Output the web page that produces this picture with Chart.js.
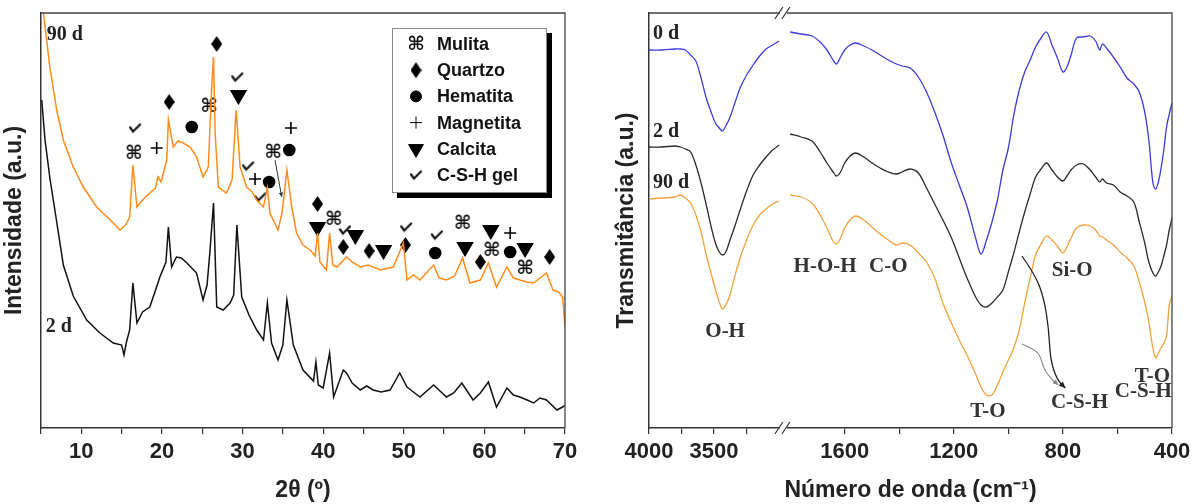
<!DOCTYPE html>
<html>
<head>
<meta charset="utf-8">
<script src="https://cdn.jsdelivr.net/npm/chart.js@4.4.0/dist/chart.umd.min.js"></script>
<style>
  html, body { margin: 0; padding: 0; background: #fff; }
  #wrap { position: relative; width: 1202px; height: 504px; }
  canvas { position: absolute; top: 0; }
  #xrd { left: 0; }
  #ftir { left: 600px; }
</style>
</head>
<body>
<div id="wrap">
  <canvas id="xrd" width="600" height="504"></canvas>
  <canvas id="ftir" width="602" height="504"></canvas>
</div>
<script>
// ---------- XRD (left panel): 2θ in degrees, intensity in a.u. ----------
const xrd90dAngle = [5.0, 5.3, 6.1, 6.95, 7.77, 9.0, 10.25, 11.9, 13.6, 14.8,
  15.5, 16.0, 16.4, 16.9, 17.6, 18.5, 19.2, 19.5, 19.9, 20.6,
  20.8, 21.4, 22.0, 22.65, 23.5, 24.3, 25.1, 25.75, 26.2, 26.4,
  26.6, 27.0, 28.0, 28.7, 29.2, 29.7, 30.5, 31.2, 31.76, 32.6,
  33.08, 33.4, 34.4, 34.9, 35.5, 36.1, 36.7, 37.5, 38.4, 39.0,
  39.3, 39.6, 40.4, 40.8, 41.2, 41.7, 42.9, 43.6, 44.6, 45.6,
  47.1, 48.7, 49.95, 50.4, 51.2, 52.0, 53.7, 54.4, 55.3, 56.3,
  57.3, 58.2, 59.5, 60.5, 61.5, 62.8, 63.6, 64.4, 65.3, 66.1,
  67.7, 68.5, 69.2, 69.7, 70.0];
const xrd90dInt = [423, 415, 361, 318, 288, 261, 241, 221, 208, 198,
  203, 211, 263, 221, 228, 235, 240, 251, 246, 268,
  308, 281, 287, 285, 281, 271, 251, 261, 345, 371,
  295, 241, 235, 248, 318, 261, 241, 236, 228, 221,
  240, 215, 198, 215, 258, 221, 195, 183, 178, 172,
  195, 166, 158, 195, 163, 161, 171, 166, 161, 163,
  158, 161, 185, 148, 153, 148, 163, 150, 148, 152,
  170, 145, 148, 165, 141, 161, 150, 148, 146, 145,
  155, 138, 136, 131, 101];

const xrd2dAngle = [5.09, 5.5, 6.1, 6.95, 7.77, 9.0, 10.67, 12.3, 13.97, 15.0,
  15.3, 15.6, 16.0, 16.4, 16.9, 17.6, 18.5, 19.75, 20.5, 20.8,
  21.2, 21.8, 22.4, 23.1, 24.3, 25.1, 25.6, 25.97, 26.4, 26.8,
  27.6, 28.45, 28.9, 29.3, 29.9, 30.8, 31.76, 32.6, 33.08, 33.6,
  34.4, 35.0, 35.5, 36.3, 37.5, 38.8, 39.1, 39.4, 40.0, 40.8,
  41.3, 42.5, 42.9, 43.6, 44.6, 45.4, 46.2, 47.2, 48.3, 49.5,
  50.4, 51.2, 52.0, 53.7, 55.3, 56.2, 57.2, 58.6, 59.5, 60.5,
  61.5, 62.8, 63.6, 64.4, 65.3, 66.1, 66.9, 67.7, 69.0, 69.7,
  70.0];
const xrd2dInt = [328, 288, 250, 206, 163, 132, 108, 95, 85, 83,
  73, 86, 98, 145, 105, 116, 121, 151, 166, 201,
  161, 171, 170, 165, 155, 128, 143, 178, 225, 121,
  118, 125, 133, 203, 131, 113, 98, 88, 125, 85,
  68, 83, 128, 83, 58, 47, 66, 43, 40, 75,
  31, 58, 55, 45, 38, 42, 38, 36, 38, 55,
  41, 36, 31, 43, 31, 35, 45, 28, 35, 46,
  21, 40, 33, 31, 28, 25, 30, 28, 18, 21,
  23];

// phase markers: [2θ, level]
const mulitaMarks = [[16.5, 275], [25.85, 322], [33.8, 276], [41.3, 209], [57.3, 205], [60.9, 178], [65.05, 160]];
const quartzoMarks = [[20.9, 326], [26.8, 384], [39.3, 224], [42.5, 181], [45.7, 177], [50.2, 183], [59.5, 166], [68.1, 171]];
const hematitaMarks = [[23.7, 301], [35.8, 278], [33.3, 246], [53.9, 175], [63.2, 176]];
const magnetitaMarks = [[19.35, 280], [36.0, 300], [31.55, 249], [63.2, 195]];
const calcitaMarks = [[29.5, 333], [39.3, 201], [44.0, 193], [47.5, 178], [57.6, 181], [60.8, 198], [65.05, 180]];
const cshMarks = [[16.67, 300], [29.35, 351], [30.7, 262], [32.2, 231], [42.7, 198], [50.3, 201], [54.1, 193]];
const xrdLeader = [[34.03, 268], [34.86, 231]];
const xrdDayLabels = [['90 d', 5.7, 393], ['2 d', 5.6, 101]];

// ---------- FTIR (right panel): wavenumber in cm-1, transmittance in a.u. ----------
const ftirLeftWn = [4000, 3900, 3800, 3760, 3720, 3680, 3640, 3600, 3560, 3520, 3490, 3460,
  3435, 3410, 3380, 3340, 3300, 3250, 3200, 3150, 3100, 3050, 3000];
const ftirRightWn = [1800, 1760, 1720, 1690, 1665, 1645, 1630, 1615, 1600, 1580,
  1560, 1530, 1500, 1470, 1440, 1410, 1390, 1360, 1330, 1300,
  1270, 1240, 1210, 1180, 1150, 1120, 1100, 1080, 1060, 1040,
  1020, 1000, 980, 960, 940, 920, 900, 880, 860, 840,
  820, 800, 785, 770, 750, 725, 700, 680, 665, 655,
  640, 615, 590, 565, 540, 520, 500, 485, 470, 460,
  450, 440, 430, 420, 410, 400];

const ftir0dLeft = [378, 378, 379, 379, 378, 373, 367, 350, 330, 315, 305, 300,
  297, 302, 310, 325, 340, 353, 363, 372, 379, 383, 387];
const ftir0dRight = [396, 394, 392, 386, 378, 369, 364, 371, 378, 383,
  385, 382, 378, 373, 368, 364, 362, 360, 351, 336,
  316, 293, 266, 243, 220, 190, 174, 188, 206, 228,
  258, 280, 313, 338, 356, 368, 381, 390, 396, 383,
  370, 356, 361, 373, 390, 391, 392, 387, 378, 384,
  380, 371, 361, 350, 344, 336, 316, 288, 245, 239,
  246, 260, 278, 301, 314, 325];

const ftir2dLeft = [281, 281, 282, 281, 279, 276, 263, 245, 223, 200, 185, 176,
  173, 176, 187, 202, 218, 237, 253, 263, 271, 278, 283];
const ftir2dRight = [294, 291, 287, 276, 265, 257, 252, 256, 265, 272,
  275, 271, 265, 260, 256, 254, 256, 259, 255, 240,
  224, 208, 191, 170, 149, 131, 123, 121, 125, 131,
  138, 156, 175, 196, 216, 234, 251, 259, 265, 258,
  251, 247, 252, 258, 263, 264, 258, 251, 246, 249,
  245, 243, 236, 232, 226, 206, 185, 166, 155, 152,
  156, 162, 172, 183, 198, 210];

const ftir90dLeft = [229, 230, 231, 233, 230, 225, 213, 196, 173, 153, 139, 126,
  119, 123, 132, 152, 170, 188, 203, 213, 219, 224, 227];
const ftir90dRight = [233, 231, 225, 213, 200, 188, 184, 190, 200, 208,
  212, 208, 201, 194, 188, 183, 185, 183, 175, 166,
  150, 125, 106, 88, 72, 54, 41, 33, 33, 43,
  56, 68, 80, 98, 125, 150, 173, 184, 192, 188,
  182, 175, 181, 190, 200, 203, 202, 198, 192, 191,
  188, 183, 176, 170, 162, 146, 126, 106, 80, 70,
  75, 80, 85, 92, 123, 132];

const ftirTicks = [4000, 3750, 3500, 3250, 1600, 1400, 1200, 1000, 800, 600, 400];
const ftirTickLabels = ['4000', '', '3500', '', '1600', '', '1200', '', '800', '', '400'];
const ftirDayLabels = [['0 d', 3969, 394], ['2 d', 3969, 296], ['90 d', 3969, 245]];
const ftirBandLabels = [['O-H', 3415, 96], ['H-O-H', 1672, 161], ['C-O', 1440, 161], ['Si-O', 766, 157],
  ['T-O', 1075, 16], ['C-S-H', 739, 25], ['T-O', 472, 51], ['C-S-H', 505, 36]];
const ftirArrowDark = [[950, 172], [901, 153], [870, 130], [852, 100], [846, 68], [821, 48], [791, 40]];
const ftirArrowGray = [[950, 84], [901, 78], [883, 72], [870, 59], [846, 50], [817, 43]];

// broken wavenumber axis: 4000-2950 then 1800-400
const LEFT_K = 0.13, RIGHT_K = 0.2725, RIGHT_START = 141;
function wnToU(w) {
  return w >= 2400 ? (4000 - w) * LEFT_K : RIGHT_START + (1800 - w) * RIGHT_K;
}
const BREAK_U = (wnToU(2950) + wnToU(1800)) / 2 - 5;

// ---------- helpers ----------
const SANS = '"Liberation Sans", Arial, sans-serif';
const SERIF = '"Liberation Serif", "Times New Roman", serif';
const INK = '#222';

function glyph(w, h, draw) {
  const c = document.createElement('canvas');
  c.width = w; c.height = h;
  draw(c.getContext('2d'), w, h);
  return c;
}
const mulitaIcon = glyph(20, 18, (g, w, h) => {
  g.fillStyle = '#111'; g.font = 'bold 19px "DejaVu Sans"';
  g.textAlign = 'center'; g.textBaseline = 'middle';
  g.fillText('\u2318', w / 2, h / 2 + 1);
});
const checkIcon = glyph(14, 11, (g) => {
  g.strokeStyle = '#111'; g.lineWidth = 2.2; g.lineCap = 'round'; g.lineJoin = 'round';
  g.beginPath(); g.moveTo(2, 5); g.lineTo(5, 9); g.lineTo(12, 2); g.stroke();
});
const diamondIcon = glyph(11, 16, (g, w, h) => {
  g.fillStyle = '#000';
  g.beginPath(); g.moveTo(w / 2, 0); g.lineTo(w, h / 2); g.lineTo(w / 2, h); g.lineTo(0, h / 2); g.closePath(); g.fill();
});

function toXY(arr) { return arr.map(([x, y]) => ({x, y})); }
function pairs(xs, ys) { return xs.map((x, i) => ({x, y: ys[i]})); }

function markSet(label, marks, style, radius, rotation) {
  return {
    label, data: toXY(marks), showLine: false, phase: true,
    pointStyle: style, pointRadius: radius, rotation: rotation || 0,
    pointBackgroundColor: '#000', pointBorderColor: '#000', pointBorderWidth: 1.6
  };
}

function drawPath(chart, pts, color, width, head) {
  const {ctx, scales: {x, y}} = chart;
  const p = pts.map(([a, b]) => [x.getPixelForValue(a), y.getPixelForValue(b)]);
  ctx.save();
  ctx.strokeStyle = color; ctx.fillStyle = color; ctx.lineWidth = width; ctx.lineJoin = 'round';
  ctx.beginPath();
  ctx.moveTo(p[0][0], p[0][1]);
  for (let i = 1; i < p.length - 1; i++) {
    const mx = (p[i][0] + p[i + 1][0]) / 2, my = (p[i][1] + p[i + 1][1]) / 2;
    ctx.quadraticCurveTo(p[i][0], p[i][1], mx, my);
  }
  ctx.lineTo(p[p.length - 1][0], p[p.length - 1][1]);
  ctx.stroke();
  if (head) {
    const [x1, y1] = p[p.length - 2], [x2, y2] = p[p.length - 1];
    const ang = Math.atan2(y2 - y1, x2 - x1);
    ctx.beginPath();
    ctx.moveTo(x2, y2);
    ctx.lineTo(x2 - head * Math.cos(ang - 0.45), y2 - head * Math.sin(ang - 0.45));
    ctx.lineTo(x2 - head * Math.cos(ang + 0.45), y2 - head * Math.sin(ang + 0.45));
    ctx.closePath(); ctx.fill();
  }
  ctx.restore();
}

function drawTexts(chart, items, font, color, align, mapX) {
  const {ctx, scales: {x, y}} = chart;
  ctx.save();
  ctx.font = font; ctx.fillStyle = color; ctx.textAlign = align; ctx.textBaseline = 'middle';
  items.forEach(([t, a, b]) => ctx.fillText(t, x.getPixelForValue(mapX ? mapX(a) : a), y.getPixelForValue(b)));
  ctx.restore();
}

function frame(chart) {
  const {ctx, chartArea: a} = chart;
  ctx.save();
  ctx.strokeStyle = '#444'; ctx.lineWidth = 1.3;
  ctx.beginPath();
  ctx.moveTo(a.left, a.top); ctx.lineTo(a.right, a.top); ctx.lineTo(a.right, a.bottom);
  ctx.stroke();
  ctx.restore();
}

function baseOptions(axisWidth, padRight, yTitle, yTitlePad, xTitle) {
  const tickFont = {family: SANS, size: 22, weight: 'bold'};
  const titleFont = {family: SANS, size: 23, weight: 'bold'};
  return {
    responsive: false, animation: false, events: [],
    layout: {padding: {top: 13, right: padRight, bottom: 0, left: 0}},
    plugins: {legend: {display: false}, tooltip: {enabled: false}},
    elements: {point: {radius: 0}},
    scales: {
      x: {
        type: 'linear',
        grid: {drawOnChartArea: false, drawTicks: true, tickLength: 6, color: '#333', lineWidth: 1.2},
        border: {display: true, color: '#333', width: 1.5},
        ticks: {font: tickFont, color: INK, padding: 5, autoSkip: false, maxRotation: 0},
        title: {display: true, text: xTitle, font: titleFont, color: INK, padding: {top: 0, bottom: 0}},
        afterFit: s => { s.height = 76; }
      },
      y: {
        min: 0, max: 415,
        ticks: {display: false},
        grid: {display: false},
        border: {display: true, color: '#333', width: 1.5},
        title: {display: true, text: yTitle, font: titleFont, color: INK, padding: {top: yTitlePad, bottom: 0}},
        afterFit: s => { s.width = axisWidth; }
      }
    }
  };
}

// ---------- XRD chart ----------
const xrdOpts = baseOptions(41, 35, 'Intensidade (a.u.)', 1, '2\u03B8 (\u00BA)');
Object.assign(xrdOpts.scales.x, {min: 5, max: 70});
xrdOpts.scales.x.ticks.stepSize = 5;
xrdOpts.scales.x.ticks.callback = v => (v % 10 === 0 ? String(v) : '');

const xrdLegendPlugin = {
  id: 'xrdLegend',
  afterDraw(chart) {
    const {ctx, chartArea: a} = chart;
    const w = 155, h = 165, bx = a.right - 18 - w, by = a.top + 15;
    ctx.save();
    ctx.fillStyle = '#000'; ctx.fillRect(bx + 5, by + 5, w, h);
    ctx.fillStyle = '#fff'; ctx.fillRect(bx, by, w, h);
    ctx.strokeStyle = '#888'; ctx.lineWidth = 1; ctx.strokeRect(bx + 0.5, by + 0.5, w - 1, h - 1);
    const sets = chart.data.datasets.filter(d => d.phase);
    sets.forEach((d, i) => {
      const cy = by + 16 + i * 26.2;
      ctx.fillStyle = '#000'; ctx.strokeStyle = '#000';
      Chart.helpers.drawPoint(ctx, {pointStyle: d.pointStyle, rotation: d.rotation, radius: d.pointRadius, borderWidth: 1.6}, bx + 24, cy);
      ctx.fillStyle = '#111'; ctx.font = 'bold 18px ' + SANS; ctx.textAlign = 'left'; ctx.textBaseline = 'middle';
      ctx.fillText(d.label, bx + 45, cy + 1);
    });
    ctx.restore();
  }
};

new Chart(document.getElementById('xrd'), {
  type: 'line',
  data: {
    datasets: [
      {label: '90 d', data: pairs(xrd90dAngle, xrd90dInt), borderColor: '#ff8c1a', borderWidth: 1.5, tension: 0},
      {label: '2 d', data: pairs(xrd2dAngle, xrd2dInt), borderColor: '#111', borderWidth: 1.5, tension: 0},
      markSet('Mulita', mulitaMarks, mulitaIcon, 6),
      markSet('Quartzo', quartzoMarks, diamondIcon, 6),
      markSet('Hematita', hematitaMarks, 'circle', 5.5),
      markSet('Magnetita', magnetitaMarks, 'cross', 6),
      markSet('Calcita', calcitaMarks, 'triangle', 8.5, 180),
      markSet('C-S-H gel', cshMarks, checkIcon, 6)
    ]
  },
  options: xrdOpts,
  plugins: [{
    id: 'xrdDecor',
    afterDraw(chart) {
      frame(chart);
      drawTexts(chart, xrdDayLabels, 'bold 20px ' + SERIF, INK, 'left');
      drawPath(chart, xrdLeader, '#333', 1, 5);
    }
  }, xrdLegendPlugin]
});

// ---------- FTIR chart ----------
function ftirSeries(left, right) {
  return ftirLeftWn.map((w, i) => ({x: wnToU(w), y: left[i]}))
    .concat([{x: (wnToU(2950) + wnToU(1800)) / 2, y: null}])
    .concat(ftirRightWn.map((w, i) => ({x: wnToU(w), y: right[i]})));
}
const ftirOpts = baseOptions(49, 30, 'Transmit\u00E2ncia (a.u.)', 13, 'N\u00FAmero de onda (cm\u207B\u00B9)');
Object.assign(ftirOpts.scales.x, {min: 0, max: wnToU(400)});
ftirOpts.scales.x.afterBuildTicks = s => { s.ticks = ftirTicks.map(w => ({value: wnToU(w)})); };
ftirOpts.scales.x.ticks.callback = (v, i) => ftirTickLabels[i];

const breakPlugin = {
  id: 'axisBreak',
  afterDraw(chart) {
    const {ctx, chartArea: a, scales: {x}} = chart;
    const bx = x.getPixelForValue(BREAK_U);
    ctx.save();
    [a.top, a.bottom].forEach(yy => {
      ctx.fillStyle = '#fff'; ctx.fillRect(bx - 3, yy - 3, 7, 6);
      ctx.strokeStyle = '#333'; ctx.lineWidth = 1.2;
      [-4, 3].forEach(dx => {
        ctx.beginPath(); ctx.moveTo(bx + dx - 4, yy + 6); ctx.lineTo(bx + dx + 4, yy - 6); ctx.stroke();
      });
    });
    ctx.restore();
  }
};

new Chart(document.getElementById('ftir'), {
  type: 'line',
  data: {
    datasets: [
      {label: '0 d', data: ftirSeries(ftir0dLeft, ftir0dRight), borderColor: '#3b3bdc', borderWidth: 1.3, tension: 0.35},
      {label: '2 d', data: ftirSeries(ftir2dLeft, ftir2dRight), borderColor: '#2a2a2a', borderWidth: 1.3, tension: 0.35},
      {label: '90 d', data: ftirSeries(ftir90dLeft, ftir90dRight), borderColor: '#f2a03c', borderWidth: 1.3, tension: 0.35}
    ]
  },
  options: ftirOpts,
  plugins: [{
    id: 'ftirDecor',
    afterDraw(chart) {
      frame(chart);
      drawTexts(chart, ftirDayLabels, 'bold 20px ' + SERIF, INK, 'left', wnToU);
      drawTexts(chart, ftirBandLabels, 'bold 21px ' + SERIF, '#333', 'center', wnToU);
      drawPath(chart, ftirArrowDark.map(([w, v]) => [wnToU(w), v]), '#222', 1.3, 7);
      drawPath(chart, ftirArrowGray.map(([w, v]) => [wnToU(w), v]), '#888', 1.1, 6);
    }
  }, breakPlugin]
});
</script>
</body>
</html>
